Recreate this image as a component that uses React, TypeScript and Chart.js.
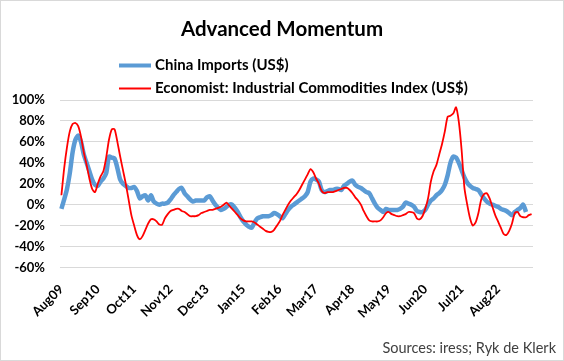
import React, { useEffect, useRef } from 'react';
import { Chart, registerables } from 'chart.js';

Chart.register(...registerables);

const TITLE = 'Advanced Momentum';
const SOURCE = 'Sources: iress; Ryk de Klerk';
const MONTH_NAMES = ['Jan', 'Feb', 'Mar', 'Apr', 'May', 'Jun', 'Jul', 'Aug', 'Sep', 'Oct', 'Nov', 'Dec'];
const START_YEAR = 2009;
const START_MONTH = 7; // August
const N_MONTHS = 169;

// Monthly categories Aug09 .. Aug23
const categories: string[] = Array.from({ length: N_MONTHS }, (_, k) => {
  const m = START_MONTH + k;
  return MONTH_NAMES[m % 12] + String((START_YEAR + Math.floor(m / 12)) % 100).padStart(2, '0');
});

const tickLabels = ['Aug09', 'Sep10', 'Oct11', 'Nov12', 'Dec13', 'Jan15', 'Feb16', 'Mar17', 'Apr18', 'May19', 'Jun20', 'Jul21', 'Aug22'];

const chinaImportsLabel = 'China Imports (US$)';
const chinaImports: (number | null)[] = [
  -4, 5, 15, 30, 50, 62, 66, 60, 48, 40,
  32, 24, 19, 18, 22, 25, 30, 46, 45, 44,
  35, 24, 20, 18, 16, 16, 17, 13, 6, 8,
  9, 4, 9, 3, 1, 0, 1, 1, 2, 5,
  9, 12, 15, 16, 11, 8, 5, 3, 4, 4,
  4, 4, 7, 8, 4, 0, -3, -5, -4, -2,
  0, 0, -3, -7, -12, -16, -19, -21, -22, -17,
  -13, -12, -11, -11, -11, -10, -8, -9, -11, -13,
  -9, -5, -2, 0, 2, 4, 6, 8, 12, 22,
  25, 24, 22, 14, 12, 13, 14, 14, 15, 15,
  14, 18, 20, 22, 23, 19, 17, 16, 14, 12,
  11, 6, 1, -3, -5, -7, -4, -5, -5, -5,
  -5, -4, -2, 2, 1, 0, -2, -6, -7, -7,
  -5, 0, 4, 6, 9, 11, 14, 19, 28, 40,
  46, 45, 40, 33, 26, 21, 18, 16, 15, 14,
  10, 6, 3, 1, 0, -1, -2, -4, -5, -6,
  -8, -10, -7, -5, -3, 0, -7, null, null,
];

const commoditiesLabel = 'Economist: Industrial Commodities Index (US$)';
const commodities: (number | null)[] = [
  9, 35, 55, 70, 77, 78, 75, 65, 50, 38,
  25, 15, 12, 20, 27, 32, 45, 62, 72, 72,
  60, 46, 33, 20, 5, -10, -20, -29, -33, -30,
  -24, -18, -14, -14, -16, -19, -19, -13, -9, -6,
  -5, -4, -4, -6, -7, -9, -11, -11, -11, -10,
  -8, -7, -6, -5, -5, -4, -3, -2, 0, 2,
  -1, -4, -7, -10, -13, -15, -16, -16, -16, -17,
  -19, -21, -23, -25, -26, -26, -24, -20, -16, -10,
  -5, 0, 4, 7, 10, 14, 19, 24, 29, 34,
  31, 25, 20, 13, 11, 12, 12, 12, 13, 14,
  15, 16, 16, 14, 11, 7, 4, 0, -6, -11,
  -15, -16, -16, -16, -15, -12, -8, -7, -9, -10,
  -11, -11, -10, -9, -7, -7, -8, -13, -14, -11,
  -4, 6, 22, 32, 38, 48, 58, 70, 84, 85,
  87, 93, 79, 52, 16, 0, -13, -20, -17, -8,
  5, 10, 11, 6, -2, -10, -16, -22, -28, -29,
  -25, -18, -8, -7, -11, -12, -12, -10, -9,
];

const Y_MIN = -60;
const Y_MAX = 100;
const Y_STEP = 20;

const FONT = 'Lato, "Open Sans", sans-serif';

const legendPlugin = {
  id: 'stackedLegend',
  afterDraw(chart: any) {
    const ctx = chart.ctx;
    const rows = [64.5, 87.5];
    ctx.save();
    chart.data.datasets.forEach((ds: any, k: number) => {
      const y = rows[k];
      ctx.strokeStyle = ds.borderColor;
      ctx.lineWidth = k === 0 ? 4 : 2;
      ctx.lineCap = 'butt';
      ctx.beginPath();
      ctx.moveTo(118, y);
      ctx.lineTo(150, y);
      ctx.stroke();
      ctx.fillStyle = '#000000';
      ctx.font = 'bold 15px ' + FONT;
      ctx.textBaseline = 'middle';
      ctx.textAlign = 'left';
      ctx.fillText(ds.label, 154, y);
    });
    ctx.restore();
  },
};

export default function App() {
  const canvasRef = useRef<HTMLCanvasElement | null>(null);

  useEffect(() => {
    if (!canvasRef.current) return;
    const chart = new Chart(canvasRef.current, {
      type: 'line',
      data: {
        labels: categories,
        datasets: [
          {
            label: chinaImportsLabel,
            data: chinaImports,
            borderColor: '#5B9BD5',
            backgroundColor: '#5B9BD5',
            borderWidth: 4.5,
            pointRadius: 0,
            tension: 0.25,
            order: 2,
            yAxisID: 'y',
          },
          {
            label: commoditiesLabel,
            data: commodities,
            borderColor: '#FF0000',
            backgroundColor: '#FF0000',
            borderWidth: 1.8,
            pointRadius: 0,
            tension: 0.25,
            order: 1,
            yAxisID: 'y',
          },
        ],
      },
      options: {
        animation: false,
        responsive: true,
        maintainAspectRatio: false,
        layout: { padding: { left: 7, right: 7, top: 0, bottom: 0 } },
        plugins: {
          legend: { display: false },
          tooltip: { enabled: false },
          title: {
            display: true,
            text: TITLE,
            color: '#000000',
            font: { family: FONT, size: 20.5, weight: 'bold', lineHeight: 1.2 },
            padding: { top: 15.7, bottom: 58.7 },
          },
          subtitle: {
            display: true,
            text: SOURCE,
            position: 'bottom',
            align: 'end',
            color: '#404040',
            font: { family: FONT, size: 14.5, weight: 'normal', lineHeight: 1.2 },
            padding: { top: 0, bottom: 3.3 },
          },
        },
        scales: {
          x: {
            type: 'category',
            offset: true,
            grid: { display: false },
            border: { display: false },
            ticks: {
              autoSkip: false,
              minRotation: 45,
              maxRotation: 45,
              padding: 6,
              color: '#000000',
              font: { family: FONT, size: 13, weight: 'bold' },
              callback: (_v: any, i: number) => (tickLabels.includes(categories[i]) ? categories[i] : null),
            },
            afterFit: (s: any) => {
              s.height = 71.8;
            },
          },
          y: {
            type: 'linear',
            position: 'left',
            min: Y_MIN,
            max: Y_MAX,
            grid: { color: '#D9D9D9', lineWidth: 1, drawTicks: false },
            border: { display: false },
            ticks: {
              stepSize: Y_STEP,
              padding: 15,
              color: '#000000',
              font: { family: FONT, size: 13, weight: 'bold' },
              callback: (v: any) => v + '%',
            },
            afterFit: (s: any) => {
              s.width = 52;
            },
          },
          yRight: {
            type: 'linear',
            position: 'right',
            min: 0,
            max: 1,
            display: true,
            grid: { display: false, drawTicks: false },
            border: { display: false },
            ticks: { display: false },
            afterFit: (s: any) => {
              s.width = 23;
            },
          },
        },
      },
      plugins: [legendPlugin],
    });
    return () => chart.destroy();
  }, []);

  return (
    <div
      style={{
        position: 'absolute',
        left: 0,
        top: 0,
        width: 564,
        height: 361,
        boxSizing: 'border-box',
        border: '1px solid #D9D9D9',
        background: '#FFFFFF',
      }}
    >
      <div style={{ position: 'relative', width: 562, height: 359 }}>
        <canvas ref={canvasRef} />
      </div>
    </div>
  );
}
